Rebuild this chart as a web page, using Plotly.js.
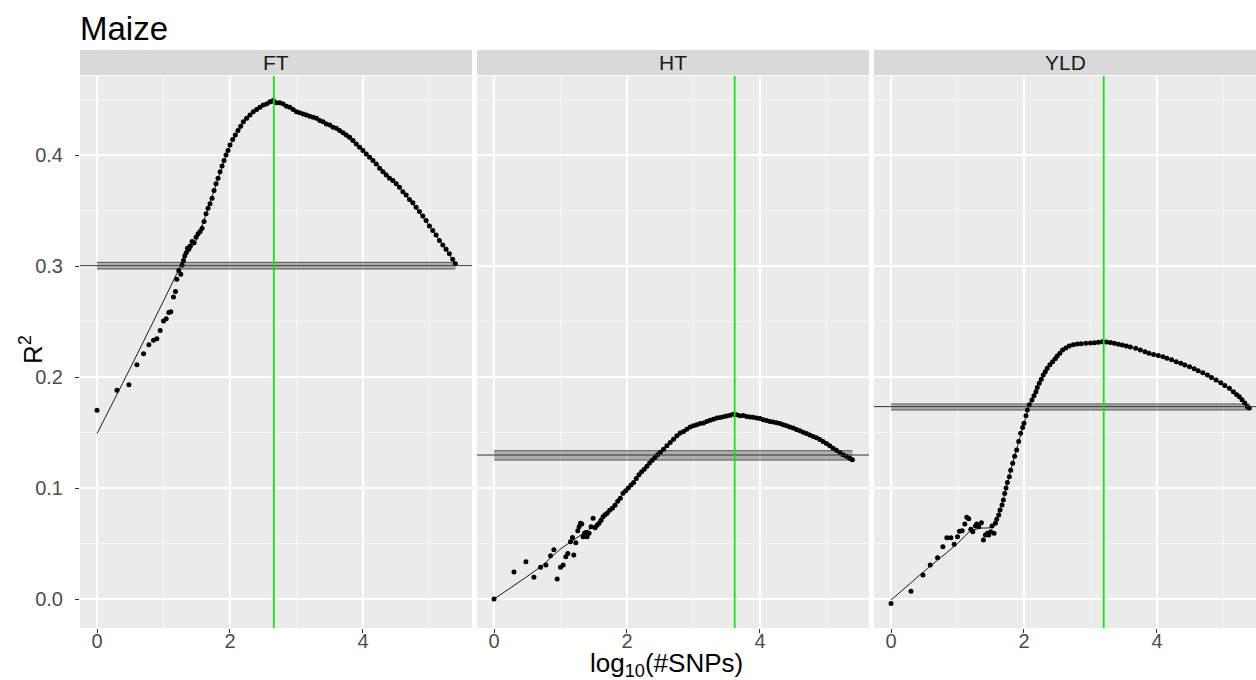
<!DOCTYPE html>
<html>
<head>
<meta charset="utf-8">
<script src="https://cdn.plot.ly/plotly-3.0.1.min.js"></script>
<style>html,body{margin:0;padding:0;background:#fff;}#chart{width:1256px;height:680px;}</style>
</head>
<body>
<div id="chart"></div>
<script>
// ---------- data ----------
const panels = ["FT", "HT", "YLD"];

const xFT = [0.00,0.30,0.48,0.60,0.70,0.78,0.85,0.90,0.95,1.00,1.04,1.08,1.11,1.15,1.18,1.20,1.23,1.26,1.28,1.30,1.32,1.34,1.36,1.38,1.40,1.43,1.46,1.49,1.52,1.55,1.58,1.61,1.64,1.67,1.70,1.73,1.76,1.79,1.82,1.85,1.88,1.91,1.94,1.97,2.00,2.04,2.08,2.12,2.16,2.20,2.25,2.30,2.35,2.40,2.45,2.50,2.55,2.60,2.65,2.70,2.75,2.80,2.85,2.90,2.95,3.00,3.05,3.10,3.15,3.20,3.25,3.30,3.35,3.40,3.45,3.50,3.55,3.60,3.65,3.70,3.75,3.80,3.85,3.90,3.95,4.00,4.05,4.10,4.15,4.20,4.25,4.30,4.35,4.40,4.45,4.50,4.55,4.60,4.65,4.70,4.75,4.80,4.85,4.90,4.95,5.00,5.05,5.10,5.15,5.20,5.25,5.30,5.35,5.39];
const yFT = [0.170,0.188,0.193,0.211,0.221,0.229,0.233,0.2345,0.242,0.2505,0.2525,0.258,0.2588,0.272,0.277,0.288,0.296,0.2925,0.301,0.305,0.309,0.312,0.316,0.315,0.318,0.322,0.321,0.326,0.329,0.331,0.334,0.340,0.347,0.352,0.356,0.361,0.368,0.374,0.379,0.385,0.390,0.395,0.400,0.404,0.409,0.414,0.418,0.422,0.426,0.430,0.433,0.436,0.439,0.441,0.443,0.445,0.446,0.448,0.449,0.447,0.447,0.446,0.444,0.443,0.441,0.439,0.438,0.437,0.436,0.435,0.434,0.433,0.431,0.430,0.428,0.427,0.425,0.424,0.422,0.420,0.418,0.416,0.413,0.410,0.407,0.404,0.401,0.398,0.395,0.392,0.388,0.385,0.382,0.379,0.377,0.374,0.371,0.367,0.364,0.360,0.357,0.353,0.349,0.345,0.341,0.336,0.332,0.328,0.323,0.319,0.315,0.311,0.306,0.302];

const xHT = [0.00,0.30,0.48,0.60,0.70,0.78,0.85,0.90,0.95,1.00,1.04,1.08,1.11,1.15,1.18,1.20,1.23,1.26,1.28,1.30,1.32,1.34,1.36,1.38,1.40,1.43,1.46,1.49,1.52,1.55,1.58,1.61,1.64,1.67,1.70,1.74,1.78,1.82,1.86,1.90,1.94,1.98,2.02,2.06,2.10,2.14,2.18,2.22,2.26,2.30,2.34,2.38,2.42,2.46,2.50,2.55,2.60,2.65,2.70,2.75,2.80,2.85,2.90,2.95,3.00,3.05,3.10,3.15,3.20,3.25,3.30,3.35,3.40,3.45,3.50,3.55,3.60,3.65,3.70,3.75,3.80,3.85,3.90,3.95,4.00,4.05,4.10,4.15,4.20,4.25,4.30,4.35,4.40,4.45,4.50,4.55,4.60,4.65,4.70,4.75,4.80,4.85,4.90,4.95,5.00,5.05,5.10,5.15,5.20,5.25,5.30,5.35,5.39];
const yHT = [0.000,0.0243,0.0336,0.0195,0.0285,0.0306,0.039,0.0444,0.018,0.0285,0.0306,0.038,0.041,0.0516,0.0553,0.0396,0.0507,0.0615,0.0651,0.0682,0.0676,0.0561,0.0592,0.0600,0.0561,0.0592,0.0651,0.0727,0.0642,0.0665,0.0682,0.0710,0.0741,0.0760,0.0772,0.0800,0.0817,0.0845,0.0880,0.0907,0.0952,0.0976,0.1000,0.1027,0.1050,0.1085,0.1120,0.1147,0.1170,0.1195,0.1225,0.1250,0.1275,0.1300,0.1322,0.1350,0.1380,0.1410,0.1440,0.1470,0.1495,0.1510,0.1530,0.1550,0.1560,0.1570,0.1580,0.1585,0.1600,0.1610,0.1620,0.1630,0.1635,0.1642,0.1648,0.1655,0.1665,0.1660,0.1650,0.1652,0.1645,0.1640,0.1637,0.1630,0.1625,0.1615,0.1608,0.1600,0.1595,0.1588,0.1580,0.1570,0.1560,0.1550,0.1540,0.1528,0.1515,0.1502,0.1490,0.1478,0.1465,0.1452,0.1438,0.1420,0.1400,0.1380,0.1358,0.1340,0.1320,0.1300,0.1285,0.1268,0.1255];

const xYLD = [0.00,0.30,0.48,0.59,0.70,0.78,0.84,0.90,0.95,1.00,1.03,1.07,1.11,1.14,1.17,1.20,1.23,1.27,1.29,1.32,1.36,1.39,1.42,1.45,1.47,1.50,1.52,1.55,1.57,1.59,1.62,1.64,1.67,1.69,1.71,1.73,1.75,1.78,1.80,1.83,1.86,1.89,1.92,1.95,1.98,2.00,2.03,2.05,2.08,2.12,2.15,2.18,2.20,2.23,2.26,2.29,2.32,2.35,2.39,2.43,2.47,2.50,2.54,2.58,2.63,2.68,2.74,2.80,2.86,2.93,3.00,3.06,3.12,3.18,3.24,3.30,3.36,3.42,3.48,3.54,3.60,3.68,3.75,3.82,3.88,3.95,4.02,4.09,4.15,4.22,4.29,4.36,4.42,4.49,4.56,4.62,4.69,4.76,4.82,4.89,4.96,5.02,5.09,5.15,5.20,5.24,5.28,5.32,5.36,5.39];
const yYLD = [-0.004,0.007,0.0216,0.0306,0.0372,0.0471,0.0552,0.0552,0.0493,0.0561,0.061,0.0615,0.0676,0.0736,0.0723,0.0628,0.0606,0.0658,0.0676,0.0651,0.0687,0.0532,0.0577,0.0592,0.0577,0.0606,0.0658,0.0592,0.0682,0.0718,0.0757,0.0802,0.0847,0.0892,0.0950,0.1000,0.1050,0.1102,0.1160,0.1222,0.1285,0.1342,0.1420,0.1493,0.1545,0.1583,0.1650,0.1703,0.1750,0.1793,0.1830,0.1868,0.1905,0.1943,0.1980,0.2018,0.2048,0.2078,0.2110,0.2138,0.2165,0.2189,0.2215,0.2243,0.2262,0.2279,0.2290,0.2297,0.2300,0.2304,0.2306,0.2309,0.2314,0.2318,0.2315,0.2310,0.2305,0.2296,0.2288,0.2280,0.2270,0.2258,0.2244,0.2228,0.2213,0.2203,0.2193,0.2183,0.2170,0.2155,0.2138,0.2123,0.2108,0.2093,0.2075,0.2057,0.2039,0.2017,0.1995,0.1973,0.1948,0.1923,0.1898,0.1868,0.1840,0.1823,0.1795,0.1765,0.1733,0.1720];

// smooth fit lines
const fitXFT = [0.00,0.50,1.00,1.30,1.50,1.75,2.00,2.25,2.50,2.70,3.00,3.50,4.00,4.50,5.00,5.39];
const fitYFT = [0.149,0.208,0.2685,0.305,0.324,0.366,0.408,0.432,0.444,0.447,0.440,0.427,0.404,0.374,0.336,0.302];
const fitXHT = [0.00,0.70,1.00,1.46,1.70,2.00,2.30,2.60,3.00,3.50,3.70,4.00,4.50,5.00,5.39];
const fitYHT = [0.000,0.029,0.045,0.064,0.076,0.099,0.119,0.138,0.156,0.165,0.1655,0.1625,0.154,0.140,0.1255];
const fitXYLD = [0.00,0.50,1.00,1.18,1.33,1.51,1.61,1.70,1.80,1.90,2.00,2.10,2.20,2.35,2.50,2.70,3.00,3.20,3.50,4.00,4.50,5.00,5.39];
const fitYYLD = [-0.001,0.025,0.050,0.0606,0.0637,0.0646,0.0742,0.092,0.116,0.137,0.1583,0.177,0.190,0.2078,0.2189,0.2283,0.2306,0.2316,0.2286,0.2195,0.209,0.193,0.172];

// reference (horizontal) lines and bands, optimum (vertical) lines
const hlineY   = [0.3003, 0.1297, 0.1733];
const bandLow  = [0.2973, 0.1252, 0.1703];
const bandHigh = [0.3033, 0.1336, 0.1757];
const optimumX = [2.66, 3.62, 3.20];

const xTicks = [0, 2, 4];
const yTicks = [0.0, 0.1, 0.2, 0.3, 0.4];

// ---------- layout helpers ----------
const L = 80, R = 0, T = 76, B = 52, W = 1256, H = 680;
const PW = W - L - R, PH = H - T - B;
const panelPx = [[0, 392], [397, 789], [794, 1176]];
const domains = panelPx.map(p => [p[0] / PW, p[1] / PW]);
const xRanges = [[-0.256, 5.64], [-0.256, 5.64], [-0.256, 5.49]];
const yRange = [-0.02613, 0.47117];

const xs = [xFT, xHT, xYLD], ys = [yFT, yHT, yYLD];
const fxs = [fitXFT, fitXHT, fitXYLD], fys = [fitYFT, fitYHT, fitYYLD];
const axIds = ["x", "x2", "x3"];
const axNames = ["xaxis", "xaxis2", "xaxis3"];

const traces = [];
const shapes = [];
const annotations = [];
const font = "Liberation Sans, Arial, Helvetica, sans-serif";

const layout = {
  width: W, height: H,
  margin: {l: L, r: R, t: T, b: B, pad: 0},
  paper_bgcolor: "#ffffff",
  plot_bgcolor: "#ffffff",
  showlegend: false,
  hovermode: false,
  font: {family: font, color: "#4D4D4D"},
  title: {text: "Maize", x: 0, xref: "paper", xanchor: "left", y: 1 - 28 / H, yref: "container", yanchor: "middle",
          font: {family: font, size: 33, color: "#000000"}},
  yaxis: {
    range: yRange, anchor: "x", tickmode: "array", tickvals: yTicks, ticktext: yTicks.map(v => v.toFixed(1)),
    ticks: "outside", ticklen: 4, tickwidth: 1, tickcolor: "#333333", ticklabelstandoff: 8,
    tickfont: {family: font, size: 20, color: "#4D4D4D"},
    showgrid: true, gridcolor: "#ffffff", gridwidth: 1.2, zeroline: false, showline: false,
    minor: {tickmode: "array", tickvals: [0.05, 0.15, 0.25, 0.35, 0.45], showgrid: true, gridcolor: "#ffffff", gridwidth: 0.55, ticks: ""},
    automargin: false
  }
};

for (let i = 0; i < 3; i++) {
  const xa = axIds[i];
  layout[axNames[i]] = {
    domain: domains[i], range: xRanges[i], anchor: "y",
    tickmode: "array", tickvals: xTicks, ticktext: xTicks.map(String),
    ticks: "outside", ticklen: 4, tickwidth: 1, tickcolor: "#333333", ticklabelstandoff: -9,
    tickfont: {family: font, size: 20, color: "#4D4D4D"},
    showgrid: true, gridcolor: "#ffffff", gridwidth: 1.2, zeroline: false, showline: false,
    minor: {tickmode: "array", tickvals: [1, 3, 5], showgrid: true, gridcolor: "#ffffff", gridwidth: 0.55, ticks: ""},
    automargin: false
  };
  // panel background
  shapes.push({type: "rect", xref: xa + " domain", yref: "y domain", x0: 0, x1: 1, y0: 0, y1: 1,
               fillcolor: "#EBEBEB", line: {width: 0}, layer: "below"});
  // strip
  shapes.push({type: "rect", xref: "paper", yref: "paper", x0: domains[i][0], x1: domains[i][1],
               y0: 1 + 1 / PH, y1: 1 + 26 / PH, fillcolor: "#D9D9D9", line: {width: 0}});
  annotations.push({text: panels[i], xref: "paper", yref: "paper", x: (domains[i][0] + domains[i][1]) / 2,
                    y: 1 + 13.5 / PH, xanchor: "center", yanchor: "middle", showarrow: false,
                    font: {family: font, size: 21, color: "#1A1A1A"}});

  const xmin = Math.min(...xs[i]), xmax = Math.max(...xs[i]);
  // band
  traces.push({type: "scatter", mode: "lines", xaxis: xa, yaxis: "y", x: [xmin, xmax], y: [bandLow[i], bandLow[i]],
               line: {color: "#555555", width: 1}});
  traces.push({type: "scatter", mode: "lines", xaxis: xa, yaxis: "y", x: [xmin, xmax], y: [bandHigh[i], bandHigh[i]],
               line: {color: "#555555", width: 1}, fill: "tonexty", fillcolor: "rgba(60,60,60,0.35)"});
  // smooth fit line
  traces.push({type: "scatter", mode: "lines", xaxis: xa, yaxis: "y", x: fxs[i], y: fys[i],
               line: {color: "#000000", width: 0.9, shape: "spline", smoothing: 0.6}});
  // points
  traces.push({type: "scatter", mode: "markers", xaxis: xa, yaxis: "y", x: xs[i], y: ys[i],
               marker: {color: "#000000", size: 5, line: {width: 0}}});
  // horizontal reference line across the panel
  shapes.push({type: "line", xref: xa + " domain", yref: "y", x0: 0, x1: 1, y0: hlineY[i], y1: hlineY[i],
               line: {color: "#333333", width: 1}});
  // vertical optimum line
  shapes.push({type: "line", xref: xa, yref: "y domain", x0: optimumX[i], x1: optimumX[i], y0: 0, y1: 1,
               line: {color: "#00EE00", width: 1.7}});
}

// axis titles
annotations.push({text: "log<sub>10</sub>(#SNPs)", xref: "paper", yref: "paper",
                  x: (666 - L) / PW, y: -(664 - (T + PH)) / PH, xanchor: "center", yanchor: "middle",
                  showarrow: false, font: {family: font, size: 26, color: "#000000"}});
annotations.push({text: "R<sup>2</sup>", xref: "paper", yref: "paper", textangle: -90,
                  x: (31 - L) / PW, y: (T + PH - 350) / PH, xanchor: "center", yanchor: "middle",
                  showarrow: false, font: {family: font, size: 26, color: "#000000"}});

layout.shapes = shapes;
layout.annotations = annotations;

Plotly.newPlot("chart", traces, layout, {displayModeBar: false, staticPlot: true});
</script>
</body>
</html>
